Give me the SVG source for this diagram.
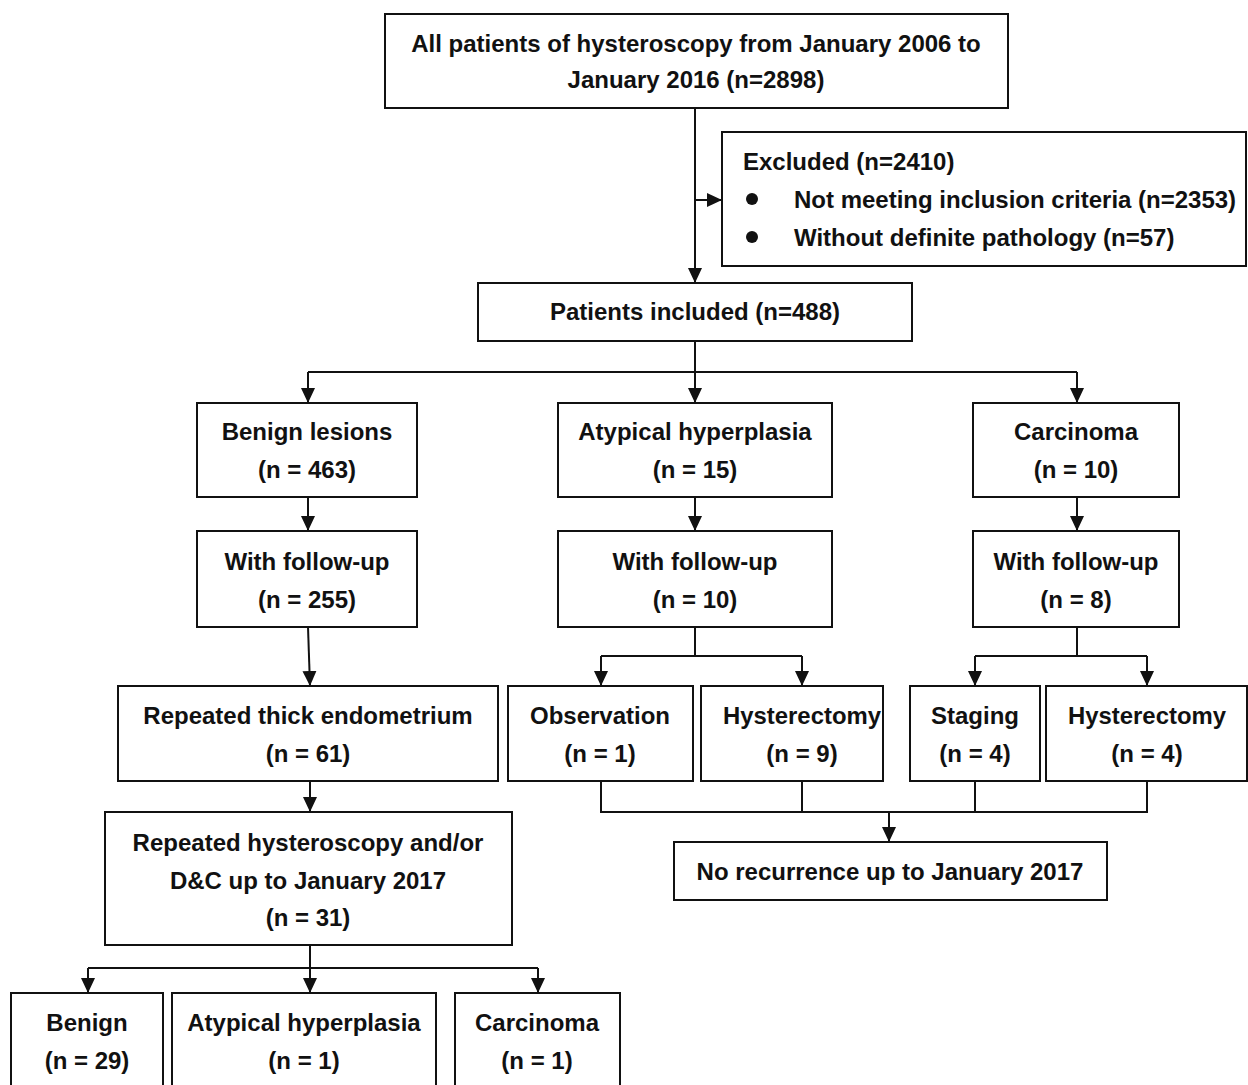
<svg xmlns="http://www.w3.org/2000/svg" width="1248" height="1085" viewBox="0 0 1248 1085">
<style>
.box{fill:#fff;stroke:#111;stroke-width:2}
.t{font-family:"Liberation Sans",Arial,sans-serif;font-weight:bold;font-size:24px;fill:#111;text-anchor:middle}
.l{text-anchor:start}
.c{fill:none;stroke:#111;stroke-width:2}
</style>
<defs>
<marker id="ah" viewBox="0 0 15 14" refX="15" refY="7" markerWidth="15" markerHeight="14" orient="auto" markerUnits="userSpaceOnUse"><path d="M0,0 L15,7 L0,14 z" fill="#111"/></marker>
</defs>
<rect width="1248" height="1085" fill="#fff"/>
<g id="connectors">
<path class="c" d="M695,108 V283" marker-end="url(#ah)"/>
<path class="c" d="M695,200 H722" marker-end="url(#ah)"/>
<path class="c" d="M695,341 V372 M308,372 H1077"/>
<path class="c" d="M308,372 V403" marker-end="url(#ah)"/>
<path class="c" d="M695,372 V403" marker-end="url(#ah)"/>
<path class="c" d="M1077,372 V403" marker-end="url(#ah)"/>
<path class="c" d="M308,497 V531" marker-end="url(#ah)"/>
<path class="c" d="M695,497 V531" marker-end="url(#ah)"/>
<path class="c" d="M1077,497 V531" marker-end="url(#ah)"/>
<path class="c" d="M308,627 L310,686" marker-end="url(#ah)"/>
<path class="c" d="M695,627 V656 M601,656 H802"/>
<path class="c" d="M601,656 V686" marker-end="url(#ah)"/>
<path class="c" d="M802,656 V686" marker-end="url(#ah)"/>
<path class="c" d="M1077,627 V656 M975,656 H1147"/>
<path class="c" d="M975,656 V686" marker-end="url(#ah)"/>
<path class="c" d="M1147,656 V686" marker-end="url(#ah)"/>
<path class="c" d="M601,781 V812 H1147 V781 M802,781 V812 M975,781 V812"/>
<path class="c" d="M889,812 V842" marker-end="url(#ah)"/>
<path class="c" d="M310,781 V812" marker-end="url(#ah)"/>
<path class="c" d="M310,945 V968 M88,968 H538"/>
<path class="c" d="M88,968 V993" marker-end="url(#ah)"/>
<path class="c" d="M310,968 V993" marker-end="url(#ah)"/>
<path class="c" d="M538,968 V993" marker-end="url(#ah)"/>
</g>
<g id="n-all">
<rect class="box" x="385" y="14" width="623" height="94"/>
<text class="t" x="696" y="52">All patients of hysteroscopy from January 2006 to</text>
<text class="t" x="696" y="88">January 2016 (n=2898)</text>
</g>
<g id="n-excluded">
<rect class="box" x="722" y="132" width="524" height="134"/>
<text class="t l" x="743" y="170">Excluded (n=2410)</text>
<circle cx="752" cy="199" r="6" fill="#111"/>
<text class="t l" x="794" y="208">Not meeting inclusion criteria (n=2353)</text>
<circle cx="752" cy="237" r="6" fill="#111"/>
<text class="t l" x="794" y="246">Without definite pathology (n=57)</text>
</g>
<g id="n-included">
<rect class="box" x="478" y="283" width="434" height="58"/>
<text class="t" x="695" y="320">Patients included (n=488)</text>
</g>
<g id="n-benign">
<rect class="box" x="197" y="403" width="220" height="94"/>
<text class="t" x="307" y="440">Benign lesions</text>
<text class="t" x="307" y="478">(n = 463)</text>
</g>
<g id="n-atypical">
<rect class="box" x="558" y="403" width="274" height="94"/>
<text class="t" x="695" y="440">Atypical hyperplasia</text>
<text class="t" x="695" y="478">(n = 15)</text>
</g>
<g id="n-carcinoma">
<rect class="box" x="973" y="403" width="206" height="94"/>
<text class="t" x="1076" y="440">Carcinoma</text>
<text class="t" x="1076" y="478">(n = 10)</text>
</g>
<g id="n-fu-benign">
<rect class="box" x="197" y="531" width="220" height="96"/>
<text class="t" x="307" y="570">With follow-up</text>
<text class="t" x="307" y="608">(n = 255)</text>
</g>
<g id="n-fu-atypical">
<rect class="box" x="558" y="531" width="274" height="96"/>
<text class="t" x="695" y="570">With follow-up</text>
<text class="t" x="695" y="608">(n = 10)</text>
</g>
<g id="n-fu-carcinoma">
<rect class="box" x="973" y="531" width="206" height="96"/>
<text class="t" x="1076" y="570">With follow-up</text>
<text class="t" x="1076" y="608">(n = 8)</text>
</g>
<g id="n-thick">
<rect class="box" x="118" y="686" width="380" height="95"/>
<text class="t" x="308" y="724">Repeated thick endometrium</text>
<text class="t" x="308" y="762">(n = 61)</text>
</g>
<g id="n-observation">
<rect class="box" x="508" y="686" width="185" height="95"/>
<text class="t" x="600" y="724">Observation</text>
<text class="t" x="600" y="762">(n = 1)</text>
</g>
<g id="n-hyst1">
<rect class="box" x="701" y="686" width="182" height="95"/>
<text class="t" x="802" y="724" textLength="158" lengthAdjust="spacingAndGlyphs">Hysterectomy</text>
<text class="t" x="802" y="762">(n = 9)</text>
</g>
<g id="n-staging">
<rect class="box" x="910" y="686" width="130" height="95"/>
<text class="t" x="975" y="724">Staging</text>
<text class="t" x="975" y="762">(n = 4)</text>
</g>
<g id="n-hyst2">
<rect class="box" x="1046" y="686" width="201" height="95"/>
<text class="t" x="1147" y="724" textLength="158" lengthAdjust="spacingAndGlyphs">Hysterectomy</text>
<text class="t" x="1147" y="762">(n = 4)</text>
</g>
<g id="n-norecurrence">
<rect class="box" x="674" y="842" width="433" height="58"/>
<text class="t" x="890" y="880">No recurrence up to January 2017</text>
</g>
<g id="n-repeated">
<rect class="box" x="105" y="812" width="407" height="133"/>
<text class="t" x="308" y="851">Repeated hysteroscopy and/or</text>
<text class="t" x="308" y="889">D&amp;C up to January 2017</text>
<text class="t" x="308" y="926">(n = 31)</text>
</g>
<g id="n-b-benign">
<rect class="box" x="11" y="993" width="152" height="100"/>
<text class="t" x="87" y="1031">Benign</text>
<text class="t" x="87" y="1069">(n = 29)</text>
</g>
<g id="n-b-atypical">
<rect class="box" x="172" y="993" width="264" height="100"/>
<text class="t" x="304" y="1031">Atypical hyperplasia</text>
<text class="t" x="304" y="1069">(n = 1)</text>
</g>
<g id="n-b-carcinoma">
<rect class="box" x="455" y="993" width="165" height="100"/>
<text class="t" x="537" y="1031">Carcinoma</text>
<text class="t" x="537" y="1069">(n = 1)</text>
</g>
</svg>
